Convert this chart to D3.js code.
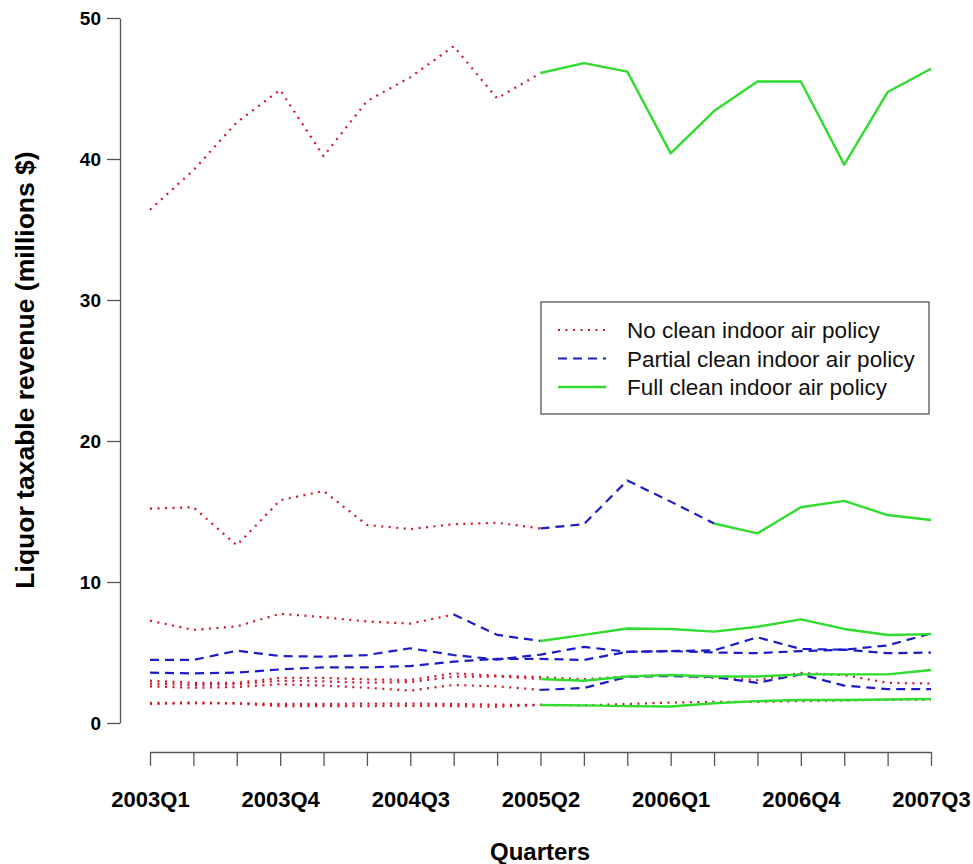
<!DOCTYPE html>
<html>
<head>
<meta charset="utf-8">
<script src="https://cdn.jsdelivr.net/npm/d3@7"></script>
<style>
  body { margin: 0; background: #fff; }
  svg { display: block; font-family: "Liberation Sans", Arial, sans-serif; }
  .axis path, .axis line { stroke: #555; stroke-width: 1.3; }
  .axis text { fill: #000; font-weight: bold; }
</style>
</head>
<body>
<div id="chart"></div>
<script>
// Quarters on the x axis
var quarters = ["2003Q1","2003Q2","2003Q3","2003Q4","2004Q1","2004Q2","2004Q3","2004Q4",
                "2005Q1","2005Q2","2005Q3","2005Q4","2006Q1","2006Q2","2006Q3","2006Q4",
                "2007Q1","2007Q2","2007Q3"];
var yTicks = [0, 10, 20, 30, 40, 50];

// Revenue per state (millions $)
var state1 = [36.4, 39.2, 42.6, 44.9, 40.2, 44.1, 45.8, 48.0, 44.3, 46.1, 46.8, 46.2, 40.4, 43.4, 45.5, 45.5, 39.6, 44.75, 46.4];
var state2 = [15.2, 15.3, 12.6, 15.8, 16.45, 14.05, 13.75, 14.1, 14.2, 13.8, 14.1, 17.2, 15.7, 14.15, 13.45, 15.3, 15.75, 14.75, 14.4];
var state3 = [7.26, 6.6, 6.85, 7.75, 7.5, 7.2, 7.05, 7.7, 6.25, 5.82, 6.25, 6.7, 6.67, 6.48, 6.83, 7.35, 6.67, 6.24, 6.3];
var state4 = [4.47, 4.47, 5.13, 4.75, 4.7, 4.82, 5.3, 4.82, 4.5, 4.85, 5.4, 5.05, 5.1, 5.15, 6.08, 5.25, 5.2, 5.5, 6.35];
var state5 = [3.57, 3.52, 3.57, 3.8, 3.95, 3.95, 4.04, 4.35, 4.55, 4.55, 4.47, 5.05, 5.1, 5.0, 4.95, 5.1, 5.2, 4.95, 5.0];
var state6 = [3.0, 2.85, 2.85, 3.2, 3.2, 3.1, 3.05, 3.52, 3.35, 3.25, 3.1, 3.3, 3.4, 3.2, 3.05, 3.55, 3.4, 2.85, 2.8];
var state7 = [2.8, 2.7, 2.75, 3.0, 2.95, 2.86, 2.9, 3.28, 3.3, 3.12, 3.0, 3.3, 3.4, 3.3, 3.3, 3.45, 3.45, 3.45, 3.76];
var state8 = [2.6, 2.5, 2.55, 2.75, 2.65, 2.5, 2.3, 2.7, 2.6, 2.35, 2.48, 3.28, 3.33, 3.26, 2.85, 3.45, 2.65, 2.4, 2.4];
var state9 = [1.42, 1.45, 1.4, 1.35, 1.35, 1.38, 1.38, 1.35, 1.3, 1.28, 1.25, 1.35, 1.45, 1.5, 1.5, 1.55, 1.6, 1.65, 1.65];
var state10 = [1.35, 1.4, 1.38, 1.2, 1.2, 1.2, 1.22, 1.2, 1.15, 1.28, 1.25, 1.2, 1.17, 1.4, 1.55, 1.63, 1.63, 1.67, 1.7];

// Policy in force per quarter: N = none, P = partial, F = full
var policy1 = ["N","N","N","N","N","N","N","N","N","F","F","F","F","F","F","F","F","F","F"];
var policy2 = ["N","N","N","N","N","N","N","N","N","P","P","P","P","F","F","F","F","F","F"];
var policy3 = ["N","N","N","N","N","N","N","P","P","F","F","F","F","F","F","F","F","F","F"];
var policy4 = ["P","P","P","P","P","P","P","P","P","P","P","P","P","P","P","P","P","P","P"];
var policy5 = ["P","P","P","P","P","P","P","P","P","P","P","P","P","P","P","P","P","P","P"];
var policy6 = ["N","N","N","N","N","N","N","N","N","N","N","N","N","N","N","N","N","N","N"];
var policy7 = ["N","N","N","N","N","N","N","N","N","F","F","F","F","F","F","F","F","F","F"];
var policy8 = ["N","N","N","N","N","N","N","N","N","P","P","P","P","P","P","P","P","P","P"];
var policy9 = ["N","N","N","N","N","N","N","N","N","N","N","N","N","N","N","N","N","N","N"];
var policy10 = ["N","N","N","N","N","N","N","N","N","F","F","F","F","F","F","F","F","F","F"];

var policyCodes = ["N", "P", "F"];
var policyNames = ["No clean indoor air policy", "Partial clean indoor air policy", "Full clean indoor air policy"];

var states = [
    {values: state1, policy: policy1}, {values: state2, policy: policy2},
    {values: state3, policy: policy3}, {values: state4, policy: policy4},
    {values: state5, policy: policy5}, {values: state6, policy: policy6},
    {values: state7, policy: policy7}, {values: state8, policy: policy8},
    {values: state9, policy: policy9}, {values: state10, policy: policy10}
];

//Set dimensions
var width = 973, height = 864;

//Line styles per policy
var styles = {
    N: {color: "#d0142c", dash: "2,5.5", width: 2.2},
    P: {color: "#1c1cc8", dash: "9,6", width: 2.2},
    F: {color: "#2fdc2f", dash: null, width: 2.4}
};

var svg = d3.select("#chart").append("svg")
        .attr("width", width)
        .attr("height", height);

//Scales
var x = d3.scalePoint()
        .domain(quarters)
        .range([150, 931]);

var y = d3.scaleLinear()
        .domain([0, 50])
        .range([723, 18]);

//Axes
svg.append("g")
        .attr("class", "axis")
        .attr("transform", "translate(0,752)")
        .call(d3.axisBottom(x)
                .tickSize(14)
                .tickSizeOuter(0)
                .tickPadding(25)
                .tickFormat(function (d, i) {
                    return i % 3 === 0 ? d : "";
                }))
        .selectAll("text")
        .style("font-size", "22px");

svg.append("g")
        .attr("class", "axis")
        .attr("transform", "translate(120,0)")
        .call(d3.axisLeft(y)
                .tickValues(yTicks)
                .tickSize(13)
                .tickSizeOuter(0)
                .tickPadding(6))
        .selectAll("text")
        .style("font-size", "19px");

//Axis titles
svg.append("text")
        .attr("x", 540)
        .attr("y", 860)
        .attr("text-anchor", "middle")
        .style("font-size", "24px")
        .style("font-weight", "bold")
        .text("Quarters");

svg.append("text")
        .attr("transform", "translate(34,370) rotate(-90)")
        .attr("text-anchor", "middle")
        .style("font-size", "26.5px")
        .style("font-weight", "bold")
        .text("Liquor taxable revenue (millions $)");

//Break every state into runs of the same policy
var runs = [];
states.forEach(function (s) {
    var start = 0;
    for (var i = 1; i < s.values.length; i++) {
        var last = i === s.values.length - 1;
        if (last || s.policy[i] !== s.policy[start]) {
            var pts = [];
            for (var k = start; k <= i; k++) {
                pts.push({q: quarters[k], v: s.values[k]});
            }
            runs.push({policy: s.policy[start], points: pts});
            start = i;
        }
    }
});

runs.sort(function (a, b) {
    return policyCodes.indexOf(a.policy) - policyCodes.indexOf(b.policy);
});

var line = d3.line()
        .x(function (d) { return x(d.q); })
        .y(function (d) { return y(d.v); });

svg.append("g")
        .selectAll("path")
        .data(runs)
        .enter().append("path")
        .attr("d", function (d) { return line(d.points); })
        .attr("fill", "none")
        .attr("stroke", function (d) { return styles[d.policy].color; })
        .attr("stroke-width", function (d) { return styles[d.policy].width; })
        .attr("stroke-dasharray", function (d) { return styles[d.policy].dash; })
        .attr("stroke-linejoin", "round");

//Legend
var legend = svg.append("g");

legend.append("rect")
        .attr("x", 541)
        .attr("y", 302)
        .attr("width", 388)
        .attr("height", 112)
        .attr("fill", "#fff")
        .attr("stroke", "#555")
        .attr("stroke-width", 1.3);

var rows = legend.selectAll(".row")
        .data(policyCodes)
        .enter().append("g")
        .attr("transform", function (d, i) {
            return "translate(0," + (330 + i * 28.5) + ")";
        });

rows.append("line")
        .attr("x1", 558)
        .attr("x2", 606)
        .attr("stroke", function (d) { return styles[d].color; })
        .attr("stroke-width", function (d) { return styles[d].width; })
        .attr("stroke-dasharray", function (d) { return styles[d].dash; });

rows.append("text")
        .attr("x", 627)
        .attr("dy", "0.36em")
        .style("font-size", "22.5px")
        .style("fill", "#111")
        .text(function (d, i) { return policyNames[i]; });
</script>
</body>
</html>
